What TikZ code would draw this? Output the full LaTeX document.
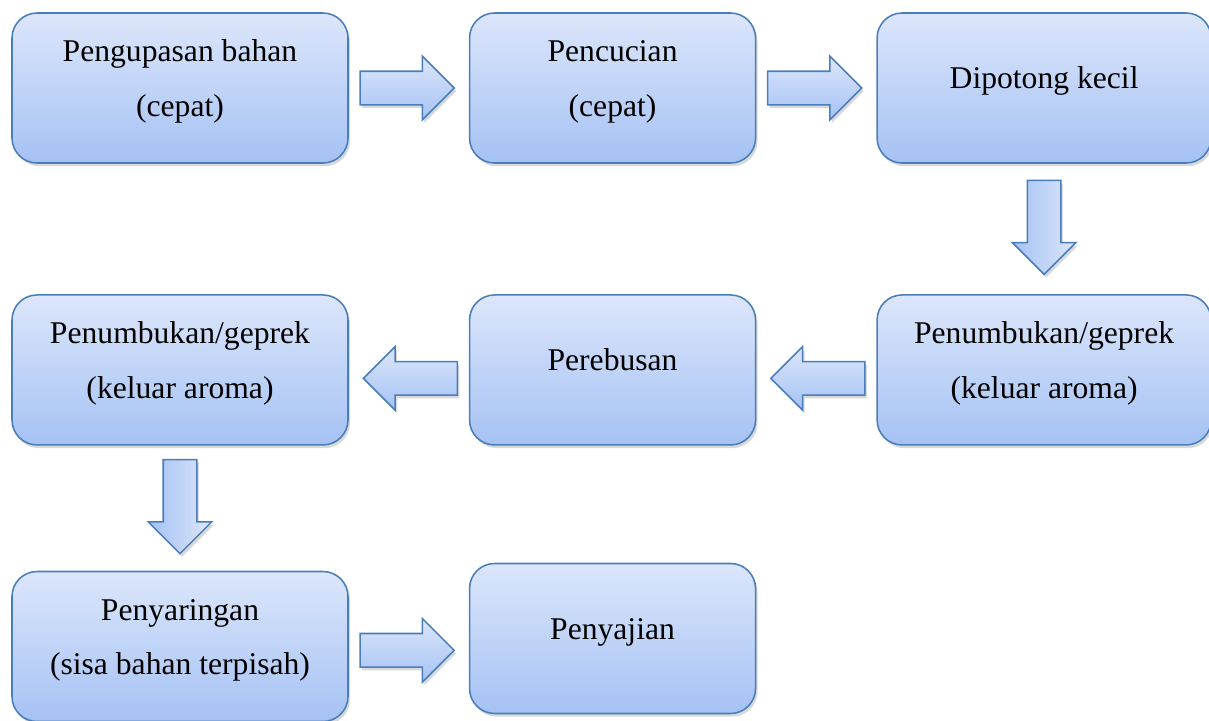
\documentclass[tikz,border=0pt]{standalone}
\usepackage{fontspec}
\setmainfont{Liberation Serif}
\definecolor{flowLine}{HTML}{4A7EBB}
\definecolor{flowTop}{HTML}{DCE6FB}
\definecolor{flowBottom}{HTML}{A5C2F4}
\usetikzlibrary{positioning, shapes.arrows, shadows}
% same baseline in every box
\newcommand{\lnstrut}{\rule[-15.1pt]{0pt}{31.6pt}}

\begin{document}
\begin{tikzpicture}[
        node distance=3.26cm and 3cm,
        box/.style={
          rounded corners=0.625cm,
          draw=flowLine,
          top color=flowTop,
          bottom color=flowBottom,
          text=black,
          minimum height=3.75cm,
          minimum width=8.4cm,
          align=center,
          font=\fontsize{22.5pt}{39pt}\selectfont,
          line width=1.1pt,
          drop shadow={shadow xshift=0.05cm, shadow yshift=-0.08cm, opacity=0.3},
        },
        narrow/.style={box, minimum width=7.15cm},
        flow/.style={
          single arrow,
          single arrow head extend=0.375cm,
          draw=flowLine,
          top color=flowTop,
          bottom color=flowBottom,
          inner sep=0.4cm,
          minimum height=2.35cm,
          line width=1.1pt,
          drop shadow={shadow xshift=0.05cm, shadow yshift=-0.08cm, opacity=0.3},
        },
        flowright/.style={flow, xshift=-0.25cm},
        flowleft/.style={flow, shape border rotate=180, xshift=0.25cm},
        flowdown/.style={flow, shape border rotate=270, yshift=0.25cm, left color=flowBottom, right color=flowTop},
      ]
        \useasboundingbox (0,0) rectangle (30.225,-18);

        \node[box] (kupas) at (4.5,-2.2) {\lnstrut Pengupasan bahan\\(cepat)\lnstrut};
        \node[narrow, right=of kupas] (cuci) {\lnstrut Pencucian\\(cepat)\lnstrut};
        \node[box, right=of cuci, minimum width=8.35cm] (potong) {\lnstrut Dipotong kecil\lnstrut};
        \node[box, below=of kupas] (geprek) {\lnstrut Penumbukan/geprek\\(keluar aroma)\lnstrut};
        \node[narrow, right=of geprek] (rebus) {\lnstrut Perebusan\lnstrut};
        \node[box, right=of rebus, minimum width=8.35cm] (tumbuk) {\lnstrut Penumbukan/geprek\\(keluar aroma)\lnstrut};
        \node[box, below=3.125cm of geprek] (saring) {\lnstrut Penyaringan\\(sisa bahan terpisah)\lnstrut};
        \node[narrow, right=of saring, yshift=0.2cm] (saji) {\lnstrut Penyajian\lnstrut};

        \path (kupas) -- node[flowright] (a1) {} (cuci);
        \path (cuci) -- node[flowright] (a2) {} (potong);
        \path (potong) -- node[flowdown] (a3) {} (tumbuk);
        \path (tumbuk) -- node[flowleft, yshift=-0.21cm] (a4) {} (rebus);
        \path (rebus) -- node[flowleft, yshift=-0.21cm] (a5) {} (geprek);
        \path (geprek) -- node[flowdown] (a6) {} (saring);
        \path (saring) -- node[flowright, yshift=-0.2cm] (a7) {} (saji);
      \end{tikzpicture}
\end{document}
